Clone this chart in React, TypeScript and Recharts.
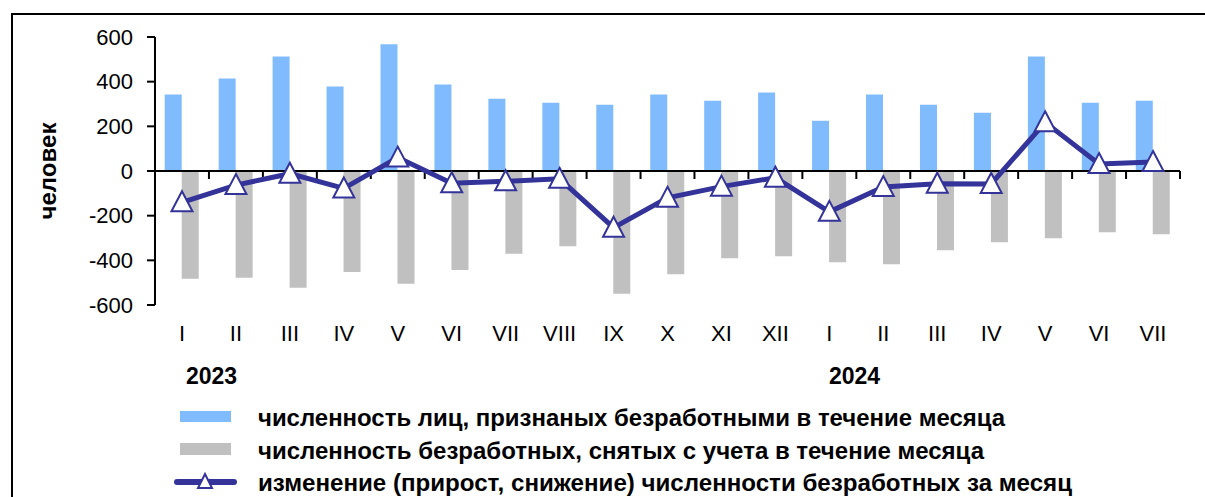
import React from "react";
import {
  Bar,
  ComposedChart,
  Line,
  ReferenceLine,
  XAxis,
  YAxis,
} from "recharts";

const months = ["I", "II", "III", "IV", "V", "VI", "VII", "VIII", "IX", "X", "XI", "XII", "I", "II", "III", "IV", "V", "VI", "VII"];
const years = ["2023", "2023", "2023", "2023", "2023", "2023", "2023", "2023", "2023", "2023", "2023", "2023", "2024", "2024", "2024", "2024", "2024", "2024", "2024"];
const registered = [342, 414, 513, 378, 567, 387, 324, 306, 297, 342, 315, 351, 225, 342, 297, 261, 513, 306, 315];
const removed = [-482, -478, -523, -452, -505, -443, -371, -337, -550, -462, -391, -382, -409, -418, -355, -319, -301, -274, -283];
const change = [-140, -63, -12, -78, 60, -55, -46, -35, -254, -120, -70, -30, -183, -72, -57, -58, 218, 31, 40];
const yTicks = [-600, -400, -200, 0, 200, 400, 600];

const seriesNames = [
  "численность лиц, признаных  безработными  в течение месяца",
  "численность безработных,  снятых с учета в течение месяца",
  "изменение (прирост,  снижение) численности безработных  за месяц",
];

const data = months.map((m, i) => ({
  id: `${years[i]}-${m}`,
  month: m,
  registered: registered[i],
  removed: removed[i],
  change: change[i],
}));

const FONT = "'Liberation Sans', Arial, sans-serif";
const BLUE = "#80BBFD";
const GREY = "#C0C0C0";
const NAVY = "#333399";

function Triangle(props: any) {
  const { cx, cy, index } = props;
  if (cx == null || cy == null) return <g key={index} />;
  return (
    <path
      key={index}
      d={`M${cx},${cy - 11} L${cx + 10.5},${cy + 9} L${cx - 10.5},${cy + 9} Z`}
      fill="#fff"
      stroke={NAVY}
      strokeWidth={2}
    />
  );
}

function ZeroAxis(props: any) {
  const { x1, x2, y1 } = props;
  const n = months.length;
  const step = (x2 - x1) / n;
  const ticks = [];
  for (let i = 0; i <= n; i++) {
    const x = x1 + i * step;
    ticks.push(<line key={i} x1={x} x2={x} y1={y1} y2={y1 + 8} stroke="#000" strokeWidth={2} />);
  }
  return (
    <g>
      <line x1={x1} x2={x2} y1={y1} y2={y1} stroke="#000" strokeWidth={2} />
      {ticks}
    </g>
  );
}

function AxisTitle(props: any) {
  const { viewBox } = props;
  const cy = viewBox.y + viewBox.height / 2;
  const cx = 48;
  return (
    <text
      x={cx}
      y={cy}
      transform={`rotate(-90, ${cx}, ${cy})`}
      textAnchor="middle"
      dominantBaseline="central"
      fontFamily={FONT}
      fontWeight="bold"
      fontSize={23}
      textLength={97}
      lengthAdjust="spacingAndGlyphs"
      fill="#000"
    >
      человек
    </text>
  );
}

function LegendBlock() {
  return (
    <svg width={1205} height={110} style={{ position: "absolute", left: 0, top: 395 }}>
      <rect x={180} y={16} width={51} height={11} fill={BLUE} />
      <rect x={180} y={48} width={51} height={12} fill={GREY} />
      <line x1={177} x2={234} y1={87} y2={87} stroke={NAVY} strokeWidth={6} strokeLinecap="round" />
      <path d="M205,79 L212,93 L198,93 Z" fill="#fff" stroke={NAVY} strokeWidth={2} />
      {seriesNames.map((s, i) => (
        <text
          key={s}
          x={258}
          y={31 + i * 32.5}
          fontFamily={FONT}
          fontWeight="bold"
          fontSize={23}
          textLength={[747, 726, 814][i]}
          lengthAdjust="spacingAndGlyphs"
          fill="#000"
        >
          {s}
        </text>
      ))}
    </svg>
  );
}

export default function App() {
  return (
    <div style={{ position: "fixed", left: 0, top: 0, width: 1205, height: 497, background: "#fff", overflow: "hidden", fontFamily: FONT }}>
      <div style={{ position: "absolute", left: 11, top: 13, width: 1205, height: 497, borderTop: "2px solid #000", borderLeft: "2px solid #000" }} />
      <ComposedChart
        width={1205}
        height={497}
        data={data}
        margin={{ top: 37, right: 25, left: 0, bottom: 152 }}
        barCategoryGap="18%"
        barGap={0}
        style={{ position: "absolute", left: 0, top: 0 }}
      >
        <XAxis
          dataKey="id"
          tickFormatter={(v: string) => v.split("-")[1]}
          axisLine={false}
          tickLine={false}
          height={40}
          interval={0}
          tickMargin={14}
          tick={{ fontSize: 22, fill: "#000", fontFamily: FONT }}
        />
        <YAxis
          domain={[-600, 600]}
          ticks={yTicks}
          width={155}
          interval={0}
          axisLine={{ stroke: "#000", strokeWidth: 2 }}
          tickLine={{ stroke: "#000", strokeWidth: 2 }}
          tickSize={8}
          tickMargin={14}
          tick={{ fontSize: 22, fill: "#000", fontFamily: FONT }}
          label={<AxisTitle />}
        />
        <Bar dataKey="registered" fill={BLUE} isAnimationActive={false} />
        <Bar dataKey="removed" fill={GREY} isAnimationActive={false} />
        <ReferenceLine y={0} shape={<ZeroAxis />} />
        <Line
          dataKey="change"
          stroke={NAVY}
          strokeWidth={5}
          dot={Triangle}
          activeDot={false}
          isAnimationActive={false}
        />
      </ComposedChart>
      <div style={{ position: "absolute", left: 186, top: 363, fontSize: 23, fontWeight: "bold", lineHeight: "26px" }}>2023</div>
      <div style={{ position: "absolute", left: 829, top: 363, fontSize: 23, fontWeight: "bold", lineHeight: "26px" }}>2024</div>
      <LegendBlock />
    </div>
  );
}
